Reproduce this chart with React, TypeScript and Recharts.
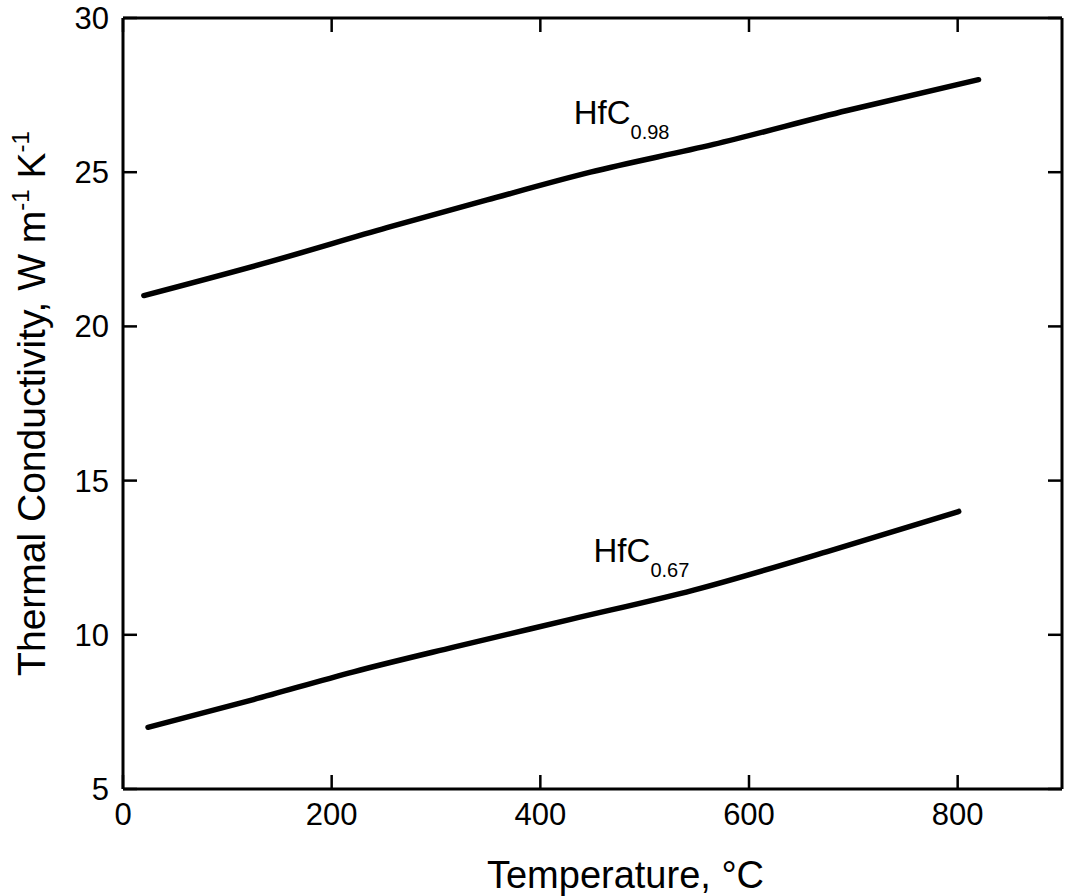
import React from 'react';
import { LineChart, Line, XAxis, YAxis, ReferenceDot, ReferenceLine } from 'recharts';

const hfc098X = [20, 141, 253, 349, 448, 566, 694, 820];
const hfc098Y = [21.0, 22.1, 23.2, 24.1, 25.0, 25.9, 27.0, 28.0];
const hfc067X = [24, 125, 221, 317, 429, 547, 675, 801];
const hfc067Y = [7.0, 7.9, 8.8, 9.6, 10.5, 11.45, 12.7, 14.0];

const xTicks = [0, 200, 400, 600, 800];
const yTicks = [5, 10, 15, 20, 25, 30];

const seriesLabels = ['HfC', 'HfC'];
const seriesSubs = ['0.98', '0.67'];
const labelX = [432, 451];
const labelY = [26.56, 12.37];

const xTitle = 'Temperature, °C';

const FONT = '"Liberation Sans", Arial, Helvetica, sans-serif';
const TICK_LEN = 14;

const d098 = hfc098X.map((x, i) => ({ x, y: hfc098Y[i] }));
const d067 = hfc067X.map((x, i) => ({ x, y: hfc067Y[i] }));

const makeLabelShape = (main: string, sub: string) => (props: any) => (
  <text x={props.cx} y={props.cy} fontFamily={FONT} fontSize={33} fill="#000">
    {main}
    <tspan dy={15} fontSize={20}>{sub}</tspan>
  </text>
);

const BottomTick = (props: any) => {
  const { x, y, payload } = props;
  return (
    <text x={x} y={y + 36} textAnchor="middle" fontFamily={FONT} fontSize={31} fill="#000">
      {payload.value}
    </text>
  );
};

const LeftTick = (props: any) => {
  const { x, y, payload } = props;
  return (
    <text x={x - 14} y={y + 11} textAnchor="end" fontFamily={FONT} fontSize={31} fill="#000">
      {payload.value}
    </text>
  );
};

const VStubs = (props: any) => {
  const x = props.x1;
  const top = Math.min(props.y1, props.y2);
  const bot = Math.max(props.y1, props.y2);
  return (
    <g>
      <line x1={x} y1={top} x2={x} y2={top + TICK_LEN} stroke="#000" strokeWidth={2.5} />
      <line x1={x} y1={bot} x2={x} y2={bot - TICK_LEN} stroke="#000" strokeWidth={2.5} />
    </g>
  );
};

const HStubs = (props: any) => {
  const y = props.y1;
  const l = Math.min(props.x1, props.x2);
  const r = Math.max(props.x1, props.x2);
  return (
    <g>
      <line x1={l} y1={y} x2={l + TICK_LEN} y2={y} stroke="#000" strokeWidth={2.5} />
      <line x1={r} y1={y} x2={r - TICK_LEN} y2={y} stroke="#000" strokeWidth={2.5} />
    </g>
  );
};

const XTitle = (props: any) => {
  const vb = props.viewBox;
  return (
    <text x={vb.x + vb.width / 2 + 33} y={vb.y + 99} textAnchor="middle" fontFamily={FONT} fontSize={38} fill="#000">
      {xTitle}
    </text>
  );
};

const YTitle = (props: any) => {
  const vb = props.viewBox;
  const cx = 45;
  const cy = vb.y + vb.height / 2;
  return (
    <text x={cx} y={cy} transform={`rotate(-90, ${cx}, ${cy})`} textAnchor="middle" fontFamily={FONT} fontSize={39} fill="#000">
      Thermal Conductivity, W m
      <tspan dy={-16} fontSize={24}>-1</tspan>
      <tspan dy={16}> K</tspan>
      <tspan dy={-16} fontSize={24}>-1</tspan>
    </text>
  );
};

export default function App() {
  return (
    <div style={{ position: 'absolute', left: 0, top: 0, background: '#fff' }}>
      <LineChart width={1067} height={896} margin={{ top: 18, right: 5, left: 0, bottom: 0 }}>
        <XAxis
          xAxisId="b"
          type="number"
          dataKey="x"
          domain={[0, 900]}
          ticks={xTicks}
          interval={0}
          height={107}
          tickSize={0}
          tickMargin={0}
          axisLine={{ stroke: '#000', strokeWidth: 3 }}
          tickLine={false}
          tick={<BottomTick />}
          label={<XTitle />}
        />
        <XAxis
          xAxisId="t"
          orientation="top"
          type="number"
          dataKey="x"
          domain={[0, 900]}
          ticks={xTicks}
          mirror
          tickLine={false}
          tick={false}
          axisLine={{ stroke: '#000', strokeWidth: 3 }}
        />
        <YAxis
          yAxisId="l"
          type="number"
          domain={[5, 30]}
          ticks={yTicks}
          interval={0}
          width={123}
          tickSize={0}
          tickMargin={0}
          axisLine={{ stroke: '#000', strokeWidth: 3 }}
          tickLine={false}
          tick={<LeftTick />}
          label={<YTitle />}
        />
        <YAxis
          yAxisId="r"
          orientation="right"
          type="number"
          domain={[5, 30]}
          ticks={yTicks}
          mirror
          tickLine={false}
          tick={false}
          axisLine={{ stroke: '#000', strokeWidth: 3 }}
        />
        {xTicks.map((t) => (
          <ReferenceLine key={`vx${t}`} xAxisId="b" yAxisId="l" x={t} ifOverflow="visible" shape={VStubs} />
        ))}
        {yTicks.map((t) => (
          <ReferenceLine key={`hy${t}`} xAxisId="b" yAxisId="l" y={t} ifOverflow="visible" shape={HStubs} />
        ))}
        <Line xAxisId="b" yAxisId="l" data={d098} dataKey="y" type="monotone" stroke="#000" strokeWidth={5.5} strokeLinecap="round" dot={false} isAnimationActive={false} />
        <Line xAxisId="b" yAxisId="l" data={d067} dataKey="y" type="monotone" stroke="#000" strokeWidth={5.5} strokeLinecap="round" dot={false} isAnimationActive={false} />
        {seriesLabels.map((m, i) => (
          <ReferenceDot
            key={i}
            xAxisId="b"
            yAxisId="l"
            x={labelX[i]}
            y={labelY[i]}
            r={1}
            ifOverflow="visible"
            shape={makeLabelShape(m, seriesSubs[i])}
          />
        ))}
      </LineChart>
    </div>
  );
}
